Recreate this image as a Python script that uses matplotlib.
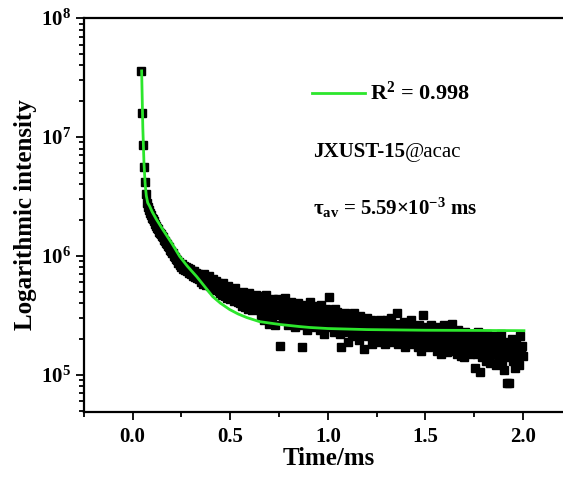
import numpy as np
import matplotlib
matplotlib.use('Agg')
import matplotlib.pyplot as plt
from matplotlib.ticker import FuncFormatter, MultipleLocator, LogLocator, NullFormatter
from matplotlib.lines import Line2D

plt.rcParams['font.family'] = ['Liberation Serif', 'DejaVu Serif']
plt.rcParams['font.weight'] = 'bold'
plt.rcParams['mathtext.fontset'] = 'custom'
plt.rcParams['mathtext.rm'] = 'Liberation Serif:bold'
plt.rcParams['mathtext.bf'] = 'Liberation Serif:bold'
plt.rcParams['mathtext.it'] = 'Liberation Serif:bold:italic'
plt.rcParams['mathtext.default'] = 'rm'

# decay data, sampled every 0.005 ms from 0.045 ms (intensity in units of 1e5)
t_start, t_step = 0.045, 0.005
intensity = [
    360, 160, 86, 56, 42, 33, 28, 26, 24.5, 23, 22, 21, 20.5, 19.5, 18.5, 18, 17.2, 16.8, 16, 15.6,
    15.2, 14.6, 14.4, 13.6, 13.4, 12.8, 12.6, 12.0, 11.8, 11.2, 11.1, 10.6, 10.5, 9.9, 9.8, 9.4, 9.3, 8.8, 8.9, 8.4,
    8.6, 8.1, 8.5, 7.8, 8.2, 7.6, 8.0, 7.4, 7.9, 7.2, 7.7, 7.0, 7.5, 6.8, 7.4, 6.6, 7.2, 6.5, 7.0, 6.4,
    6.9, 6.0, 6.6, 5.8, 7.1, 6.2, 5.7, 6.5, 5.9, 6.8, 5.6, 6.1, 5.4, 6.4, 5.8, 5.2, 6.2, 5.5, 5.9, 5.1,
    5.7, 4.9, 5.4, 4.7, 5.9, 5.1, 4.6, 5.3, 4.4, 5.6, 4.8, 4.3, 5.2, 4.6, 4.9, 4.2, 5.4, 4.5, 4.7, 4.1,
    4.8, 4.0, 4.5, 3.8, 5.0, 4.2, 3.7, 4.6, 4.1, 3.6, 4.9, 3.9, 4.3, 3.5, 4.4, 4.0, 3.6, 4.7, 3.8, 4.2,
    4.6, 3.5, 4.1, 3.2, 4.4, 3.7, 2.9, 3.9, 4.7, 3.3, 3.6, 2.7, 4.2, 3.8, 3.1, 4.3, 3.4, 2.6, 3.9, 3.5,
    4.3, 3.2, 1.75, 3.7, 4.0, 2.9, 3.4, 4.4, 3.0, 3.6, 2.6, 3.9, 3.3, 4.1, 2.8, 3.5, 3.7, 2.5, 3.2, 3.8,
    4.0, 3.0, 3.5, 2.6, 3.7, 1.7, 3.2, 3.9, 2.8, 3.4, 2.4, 3.6, 3.1, 4.1, 2.7, 3.3, 2.9, 3.8, 2.5, 3.2,
    3.7, 2.7, 3.3, 2.4, 3.9, 2.9, 3.5, 2.2, 3.1, 3.6, 2.6, 3.0, 4.5, 2.5, 3.4, 2.8, 3.2, 2.3, 3.6, 2.7,
    3.4, 2.5, 3.0, 2.2, 1.7, 2.7, 3.1, 2.3, 2.9, 3.3, 2.4, 2.8, 1.9, 3.2, 2.6, 3.0, 2.1, 2.7, 3.3, 2.4,
    3.0, 2.3, 2.8, 1.95, 3.1, 2.5, 2.2, 2.9, 1.65, 2.6, 2.4, 3.0, 2.1, 2.7, 2.3, 2.9, 1.8, 2.5, 2.8, 2.2,
    2.8, 2.1, 2.6, 1.9, 2.9, 2.3, 2.0, 2.7, 2.2, 2.5, 1.8, 2.4, 2.9, 2.0, 2.6, 2.2, 3.0, 1.9, 2.5, 2.1,
    2.6, 2.0, 3.3, 1.8, 2.7, 2.2, 1.9, 2.5, 2.1, 2.8, 1.7, 2.4, 2.0, 2.6, 2.3, 1.8, 2.9, 2.1, 2.4, 1.9,
    2.5, 1.9, 2.3, 1.7, 2.6, 2.0, 2.2, 1.6, 2.4, 3.2, 2.0, 1.8, 2.5, 2.1, 1.7, 2.3, 1.9, 2.6, 1.8, 2.2,
    2.4, 1.8, 2.2, 1.6, 2.5, 1.9, 2.1, 1.5, 2.3, 1.8, 2.6, 1.7, 2.0, 1.55, 2.4, 1.9, 2.2, 1.6, 2.7, 1.8,
    2.3, 1.7, 2.1, 1.5, 2.4, 1.8, 2.0, 1.45, 2.2, 1.7, 1.9, 1.4, 2.3, 1.75, 2.0, 1.6, 2.2, 1.5, 1.9, 1.7,
    2.2, 1.6, 1.15, 2.0, 1.5, 2.3, 1.7, 1.05, 1.9, 1.4, 2.1, 1.6, 1.8, 1.3, 2.2, 1.5, 1.9, 1.25, 1.7, 2.0,
    2.1, 1.5, 1.8, 1.2, 2.0, 1.6, 1.35, 1.9, 1.45, 2.2, 1.3, 1.7, 1.1, 1.9, 1.5, 0.86, 1.8, 0.85, 1.4, 1.6,
    2.0, 1.3, 1.7, 1.15, 1.9, 1.4, 1.6, 1.2, 2.1, 1.5, 1.75, 1.45,
]
time = np.round(t_start + t_step * np.arange(len(intensity)), 3)
intensity = np.array(intensity) * 1e5

# fitted curve (units of 1e5)
fit_t = [0.046, 0.052, 0.058, 0.064, 0.070, 0.077, 0.087, 0.10, 0.12, 0.154, 0.20, 0.241,
         0.28, 0.328, 0.37, 0.41, 0.45, 0.497, 0.54, 0.585, 0.65, 0.754, 0.85, 0.908,
         1.0, 1.2, 1.5, 1.8, 2.005]
fit_y = [360, 120, 60, 40, 32, 28, 26.2, 23.5, 20.5, 16.7, 12.8, 9.9,
         8.2, 6.7, 5.5, 4.55, 4.0, 3.54, 3.25, 3.03, 2.8, 2.65, 2.55, 2.5,
         2.45, 2.4, 2.37, 2.36, 2.35]
fit_y = np.array(fit_y) * 1e5

green = '#2ce62c'

fig = plt.figure(figsize=(5.63, 4.78), dpi=100)
ax = fig.add_axes([0.149, 0.138, 0.87, 0.824])

ax.plot(time, intensity, 's', color='black', ms=5.8, mec='black', ls='none', zorder=2)
ax.plot(fit_t, fit_y, '-', color=green, lw=2, zorder=3)

ax.set_yscale('log')
ax.set_xlim(-0.25, 2.26)
ax.set_ylim(4.86e4, 1e8)

ax.xaxis.set_major_locator(MultipleLocator(0.5))
ax.xaxis.set_minor_locator(MultipleLocator(0.25))
ax.xaxis.set_major_formatter(FuncFormatter(lambda v, p: '%.1f' % v))
ax.yaxis.set_major_locator(LogLocator(base=10))
ax.yaxis.set_minor_locator(LogLocator(base=10, subs=np.arange(2, 10)))
ax.yaxis.set_minor_formatter(NullFormatter())
ax.yaxis.set_major_formatter(FuncFormatter(lambda v, p: r'$\mathrm{10^{%d}}$' % round(np.log10(v))))

ax.tick_params(which='both', direction='out', top=False, right=False, width=1.3)
ax.tick_params(which='major', length=6, labelsize=15)
ax.tick_params(axis='x', which='major', pad=5)
ax.tick_params(axis='y', which='major', pad=3)
ax.tick_params(which='minor', length=3.5)
for s in ['left', 'bottom', 'top']:
    ax.spines[s].set_linewidth(1.6)
ax.spines['right'].set_visible(False)

ax.set_xlabel('Time/ms', fontsize=18, fontweight='bold', labelpad=0)
ax.set_ylabel('Logarithmic intensity', fontsize=18, fontweight='bold', labelpad=3)

W, H = 563.0, 478.0
fig.add_artist(Line2D([312 / W, 365 / W], [1 - 93 / H, 1 - 93 / H], color=green, lw=2))
fig.text(370 / W, 1 - 93 / H, r'R$^{\mathrm{2}}$ = 0.998', fontsize=16, fontweight='bold', va='center')
t1 = fig.text(313 / W, 1 - 157 / H, 'JXUST-15', fontsize=15, fontweight='bold', va='baseline')
ax.annotate('@acac', xy=(1, 0), xycoords=t1, fontsize=15, fontweight='normal', va='bottom', ha='left')
fig.text(313 / W, 1 - 215 / H, r'$\mathrm{\tau_{av}}$ = 5.59×10$^{\mathrm{-3}}$ ms', fontsize=15,
         fontweight='bold', va='baseline')

plt.savefig('out.png', dpi=100)
